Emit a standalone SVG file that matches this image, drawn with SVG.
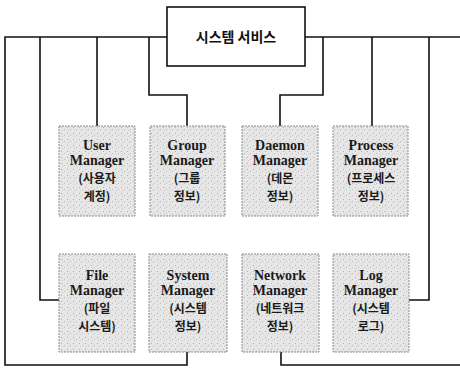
<svg xmlns="http://www.w3.org/2000/svg" width="460" height="368" viewBox="0 0 460 368">
<style>
.bg{fill:#ffffff}
.line{fill:none;stroke:#111;stroke-width:1.6;stroke-linejoin:miter}
.box{fill:url(#dots);stroke:#8a8a8a;stroke-width:1;stroke-dasharray:2 1}
.root{fill:#ffffff;stroke:#111;stroke-width:1.6}
.t{font-family:"Liberation Serif","Noto Sans CJK KR",serif;font-weight:bold;font-size:14px;fill:#1a1a1a;text-anchor:middle}
.k{font-family:"Noto Sans CJK KR","Liberation Sans",sans-serif;font-weight:bold;font-size:12px;fill:#1a1a1a;text-anchor:middle}
.rt{font-family:"Noto Sans CJK KR","Liberation Sans",sans-serif;font-weight:bold;font-size:14px;fill:#111;text-anchor:middle}
</style>
<defs>
<pattern id="dots" width="6" height="6" patternUnits="userSpaceOnUse">
<rect width="6" height="6" fill="#e6e6e6"/>
<rect x="1" y="1" width="1" height="1" fill="#b0b0b0"/>
<rect x="4" y="3" width="1" height="1" fill="#bfbfbf"/>
<rect x="2" y="4" width="1" height="1" fill="#cccccc"/>
</pattern>
</defs>
<rect class="bg" x="0" y="0" width="460" height="368"/>
<g id="connectors">
<polyline class="line" points="167,37 5,37 5,365 187,365 187,352"/>
<polyline class="line" points="40,37 40,300 59,300"/>
<line class="line" x1="97" y1="37" x2="97" y2="126"/>
<polyline class="line" points="149,37 149,95 187,95 187,126"/>
<polyline class="line" points="305,37 460,37"/>
<polyline class="line" points="323,37 323,95 280,95 280,126"/>
<line class="line" x1="372" y1="37" x2="372" y2="126"/>
<polyline class="line" points="429,37 429,300 409,300"/>
<polyline class="line" points="281,352 281,365 460,365"/>
</g>
<g id="root">
<rect class="root" x="167" y="7" width="138" height="59"/>
<text class="rt" x="236" y="42">시스템 서비스</text>
</g>
<g id="user">
<rect class="box" x="59" y="126" width="76" height="90"/>
<text class="t" x="97" y="150">User</text>
<text class="t" x="97" y="165">Manager</text>
<text class="k" x="97" y="183">(사용자</text>
<text class="k" x="97" y="201">계정)</text>
</g>
<g id="group">
<rect class="box" x="150" y="126" width="75" height="90"/>
<text class="t" x="187" y="150">Group</text>
<text class="t" x="187" y="165">Manager</text>
<text class="k" x="187" y="183">(그룹</text>
<text class="k" x="187" y="201">정보)</text>
</g>
<g id="daemon">
<rect class="box" x="242" y="126" width="76" height="90"/>
<text class="t" x="280" y="150">Daemon</text>
<text class="t" x="280" y="165">Manager</text>
<text class="k" x="280" y="183">(데몬</text>
<text class="k" x="280" y="201">정보)</text>
</g>
<g id="process">
<rect class="box" x="333" y="126" width="75" height="90"/>
<text class="t" x="371" y="150">Process</text>
<text class="t" x="371" y="165">Manager</text>
<text class="k" x="371" y="183">(프로세스</text>
<text class="k" x="371" y="201">정보)</text>
</g>
<g id="file">
<rect class="box" x="59" y="254" width="76" height="98"/>
<text class="t" x="97" y="280">File</text>
<text class="t" x="97" y="295">Manager</text>
<text class="k" x="97" y="313">(파일</text>
<text class="k" x="97" y="331">시스템)</text>
</g>
<g id="system">
<rect class="box" x="149" y="254" width="78" height="98"/>
<text class="t" x="188" y="280">System</text>
<text class="t" x="188" y="295">Manager</text>
<text class="k" x="188" y="313">(시스템</text>
<text class="k" x="188" y="331">정보)</text>
</g>
<g id="network">
<rect class="box" x="242" y="254" width="77" height="98"/>
<text class="t" x="280" y="280">Network</text>
<text class="t" x="280" y="295">Manager</text>
<text class="k" x="280" y="313">(네트워크</text>
<text class="k" x="280" y="331">정보)</text>
</g>
<g id="log">
<rect class="box" x="333" y="254" width="76" height="98"/>
<text class="t" x="371" y="280">Log</text>
<text class="t" x="371" y="295">Manager</text>
<text class="k" x="371" y="313">(시스템</text>
<text class="k" x="371" y="331">로그)</text>
</g>
</svg>
